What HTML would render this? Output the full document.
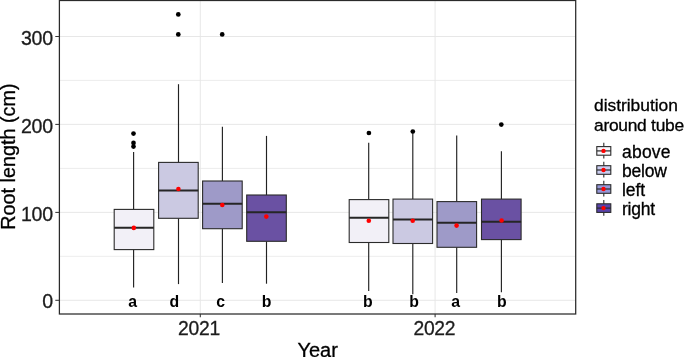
<!DOCTYPE html><html><head><meta charset="utf-8"><title>Root length boxplot</title>
<style>html,body{margin:0;padding:0;background:#fff}svg{display:block}text{font-family:"Liberation Sans",sans-serif}</style></head><body>
<svg width="685" height="357" viewBox="0 0 685 357">
<rect width="685" height="357" fill="#fff"/>
<line x1="59.4" x2="575.7" y1="256.3" y2="256.3" stroke="#e9e9e9" stroke-width="0.85"/>
<line x1="59.4" x2="575.7" y1="168.4" y2="168.4" stroke="#e9e9e9" stroke-width="0.85"/>
<line x1="59.4" x2="575.7" y1="80.4" y2="80.4" stroke="#e9e9e9" stroke-width="0.85"/>
<line x1="59.4" x2="575.7" y1="300.3" y2="300.3" stroke="#e6e6e6" stroke-width="0.95"/>
<line x1="59.4" x2="575.7" y1="212.4" y2="212.4" stroke="#e6e6e6" stroke-width="0.95"/>
<line x1="59.4" x2="575.7" y1="124.4" y2="124.4" stroke="#e6e6e6" stroke-width="0.95"/>
<line x1="59.4" x2="575.7" y1="36.5" y2="36.5" stroke="#e6e6e6" stroke-width="0.95"/>
<line x1="200.3" x2="200.3" y1="0.5" y2="314.0" stroke="#e6e6e6" stroke-width="0.95"/>
<line x1="435.1" x2="435.1" y1="0.5" y2="314.0" stroke="#e6e6e6" stroke-width="0.95"/>
<line x1="133.6" x2="133.6" y1="152.0" y2="209.4" stroke="#222" stroke-width="1.15"/>
<line x1="133.6" x2="133.6" y1="249.6" y2="287.5" stroke="#222" stroke-width="1.15"/>
<rect x="114.2" y="209.4" width="39.6" height="40.2" fill="#f2f0f7" stroke="#2b2b2b" stroke-width="1.1"/>
<line x1="114.2" x2="153.8" y1="227.8" y2="227.8" stroke="#262626" stroke-width="1.9"/>
<circle cx="133.8" cy="227.9" r="2.3" fill="#ff0000"/>
<line x1="178.5" x2="178.5" y1="84.2" y2="162.4" stroke="#222" stroke-width="1.15"/>
<line x1="178.5" x2="178.5" y1="218.3" y2="284.1" stroke="#222" stroke-width="1.15"/>
<rect x="158.6" y="162.4" width="39.6" height="55.9" fill="#cbc9e2" stroke="#2b2b2b" stroke-width="1.1"/>
<line x1="158.6" x2="198.2" y1="190.5" y2="190.5" stroke="#262626" stroke-width="1.9"/>
<circle cx="178.4" cy="189.0" r="2.3" fill="#ff0000"/>
<line x1="222.4" x2="222.4" y1="126.8" y2="181.0" stroke="#222" stroke-width="1.15"/>
<line x1="222.4" x2="222.4" y1="228.7" y2="283.1" stroke="#222" stroke-width="1.15"/>
<rect x="202.6" y="181.0" width="39.6" height="47.7" fill="#9e9ac8" stroke="#2b2b2b" stroke-width="1.1"/>
<line x1="202.6" x2="242.2" y1="203.8" y2="203.8" stroke="#262626" stroke-width="1.9"/>
<circle cx="222.3" cy="205.0" r="2.3" fill="#ff0000"/>
<line x1="266.5" x2="266.5" y1="135.9" y2="195.0" stroke="#222" stroke-width="1.15"/>
<line x1="266.5" x2="266.5" y1="241.3" y2="283.7" stroke="#222" stroke-width="1.15"/>
<rect x="246.7" y="195.0" width="39.6" height="46.3" fill="#6a51a3" stroke="#2b2b2b" stroke-width="1.1"/>
<line x1="246.7" x2="286.3" y1="212.25" y2="212.25" stroke="#262626" stroke-width="1.9"/>
<circle cx="266.3" cy="216.6" r="2.3" fill="#ff0000"/>
<line x1="368.7" x2="368.7" y1="142.8" y2="199.6" stroke="#222" stroke-width="1.15"/>
<line x1="368.7" x2="368.7" y1="242.5" y2="291.0" stroke="#222" stroke-width="1.15"/>
<rect x="349.2" y="199.6" width="39.6" height="42.9" fill="#f2f0f7" stroke="#2b2b2b" stroke-width="1.1"/>
<line x1="349.2" x2="388.8" y1="217.8" y2="217.8" stroke="#262626" stroke-width="1.9"/>
<circle cx="368.8" cy="220.8" r="2.3" fill="#ff0000"/>
<line x1="412.8" x2="412.8" y1="132.0" y2="199.1" stroke="#222" stroke-width="1.15"/>
<line x1="412.8" x2="412.8" y1="243.5" y2="294.2" stroke="#222" stroke-width="1.15"/>
<rect x="393.0" y="199.1" width="39.6" height="44.4" fill="#cbc9e2" stroke="#2b2b2b" stroke-width="1.1"/>
<line x1="393.0" x2="432.6" y1="219.5" y2="219.5" stroke="#262626" stroke-width="1.9"/>
<circle cx="412.7" cy="220.8" r="2.3" fill="#ff0000"/>
<line x1="456.7" x2="456.7" y1="135.5" y2="201.6" stroke="#222" stroke-width="1.15"/>
<line x1="456.7" x2="456.7" y1="247.3" y2="292.9" stroke="#222" stroke-width="1.15"/>
<rect x="437.0" y="201.6" width="39.6" height="45.7" fill="#9e9ac8" stroke="#2b2b2b" stroke-width="1.1"/>
<line x1="437.0" x2="476.6" y1="222.8" y2="222.8" stroke="#262626" stroke-width="1.9"/>
<circle cx="456.6" cy="225.6" r="2.3" fill="#ff0000"/>
<line x1="501.4" x2="501.4" y1="151.2" y2="199.1" stroke="#222" stroke-width="1.15"/>
<line x1="501.4" x2="501.4" y1="239.6" y2="292.3" stroke="#222" stroke-width="1.15"/>
<rect x="481.5" y="199.1" width="39.6" height="40.5" fill="#6a51a3" stroke="#2b2b2b" stroke-width="1.1"/>
<line x1="481.5" x2="521.1" y1="221.8" y2="221.8" stroke="#262626" stroke-width="1.9"/>
<circle cx="501.6" cy="220.5" r="2.3" fill="#ff0000"/>
<circle cx="133.5" cy="133.6" r="2.35" fill="#000"/>
<circle cx="133.5" cy="142.9" r="2.35" fill="#000"/>
<circle cx="133.5" cy="146.6" r="2.35" fill="#000"/>
<circle cx="178.3" cy="14.4" r="2.35" fill="#000"/>
<circle cx="178.3" cy="34.4" r="2.35" fill="#000"/>
<circle cx="222.2" cy="34.4" r="2.35" fill="#000"/>
<circle cx="368.9" cy="133.0" r="2.35" fill="#000"/>
<circle cx="412.8" cy="131.5" r="2.35" fill="#000"/>
<circle cx="501.3" cy="124.6" r="2.35" fill="#000"/>
<text x="132.6" y="306.6" font-size="15.8" font-weight="bold" text-anchor="middle" fill="#000">a</text>
<text x="174.4" y="306.6" font-size="15.8" font-weight="bold" text-anchor="middle" fill="#000">d</text>
<text x="220.6" y="306.6" font-size="15.8" font-weight="bold" text-anchor="middle" fill="#000">c</text>
<text x="266.6" y="306.6" font-size="15.8" font-weight="bold" text-anchor="middle" fill="#000">b</text>
<text x="367.8" y="306.6" font-size="15.8" font-weight="bold" text-anchor="middle" fill="#000">b</text>
<text x="414.0" y="306.6" font-size="15.8" font-weight="bold" text-anchor="middle" fill="#000">b</text>
<text x="455.6" y="306.6" font-size="15.8" font-weight="bold" text-anchor="middle" fill="#000">a</text>
<text x="501.8" y="306.6" font-size="15.8" font-weight="bold" text-anchor="middle" fill="#000">b</text>
<rect x="59.4" y="0.5" width="516.3" height="313.5" fill="none" stroke="#2a2a2a" stroke-width="1.25"/>
<line x1="55.3" x2="59.4" y1="300.3" y2="300.3" stroke="#333" stroke-width="1.05"/>
<text x="53.1" y="307.9" font-size="19.6" text-anchor="end" fill="#1c1c1c" stroke="#1c1c1c" stroke-width="0.3">0</text>
<line x1="55.3" x2="59.4" y1="212.4" y2="212.4" stroke="#333" stroke-width="1.05"/>
<text x="53.1" y="220.6" font-size="19.6" text-anchor="end" textLength="32.2" lengthAdjust="spacing" fill="#1c1c1c" stroke="#1c1c1c" stroke-width="0.3">100</text>
<line x1="55.3" x2="59.4" y1="124.4" y2="124.4" stroke="#333" stroke-width="1.05"/>
<text x="53.1" y="132.6" font-size="19.6" text-anchor="end" textLength="32.2" lengthAdjust="spacing" fill="#1c1c1c" stroke="#1c1c1c" stroke-width="0.3">200</text>
<line x1="55.3" x2="59.4" y1="36.5" y2="36.5" stroke="#333" stroke-width="1.05"/>
<text x="53.1" y="44.7" font-size="19.6" text-anchor="end" textLength="32.2" lengthAdjust="spacing" fill="#1c1c1c" stroke="#1c1c1c" stroke-width="0.3">300</text>
<line x1="200.3" x2="200.3" y1="314.0" y2="317.2" stroke="#333" stroke-width="1.05"/>
<text x="199.1" y="335.2" font-size="19.3" textLength="42.1" lengthAdjust="spacing" text-anchor="middle" fill="#1c1c1c" stroke="#1c1c1c" stroke-width="0.3">2021</text>
<line x1="435.1" x2="435.1" y1="314.0" y2="317.2" stroke="#333" stroke-width="1.05"/>
<text x="434.5" y="335.2" font-size="19.3" textLength="42.1" lengthAdjust="spacing" text-anchor="middle" fill="#1c1c1c" stroke="#1c1c1c" stroke-width="0.3">2022</text>
<text x="317.6" y="357.2" font-size="20" text-anchor="middle" fill="#000" stroke="#000" stroke-width="0.3">Year</text>
<text transform="translate(15.0,156.6) rotate(-90)" font-size="19.8" text-anchor="middle" fill="#000" stroke="#000" stroke-width="0.3">Root length (cm)</text>
<text x="594" y="111.4" font-size="17.4" textLength="83.9" lengthAdjust="spacing" fill="#000" stroke="#000" stroke-width="0.3">distribution</text>
<text x="594" y="131.2" font-size="17.4" textLength="90.1" lengthAdjust="spacing" fill="#000" stroke="#000" stroke-width="0.3">around tube</text>
<line x1="603.8" x2="603.8" y1="142.7" y2="158.5" stroke="#2b2b2b" stroke-width="1.1"/>
<rect x="596.8" y="146.6" width="14.0" height="8.6" fill="#f7f6fb" stroke="#2b2b2b" stroke-width="1.1"/>
<line x1="596.8" x2="610.8" y1="150.9" y2="150.9" stroke="#2b2b2b" stroke-width="1.2"/>
<circle cx="603.5" cy="150.9" r="2.2" fill="#ff0000"/>
<text x="622.0" y="157.7" font-size="17.5" textLength="48.5" lengthAdjust="spacing" fill="#000" stroke="#000" stroke-width="0.3">above</text>
<line x1="603.8" x2="603.8" y1="161.8" y2="177.6" stroke="#2b2b2b" stroke-width="1.1"/>
<rect x="596.8" y="165.7" width="14.0" height="8.6" fill="#cacdf0" stroke="#2b2b2b" stroke-width="1.1"/>
<line x1="596.8" x2="610.8" y1="170.0" y2="170.0" stroke="#2b2b2b" stroke-width="1.2"/>
<circle cx="603.5" cy="170.0" r="2.2" fill="#ff0000"/>
<text x="622.0" y="176.8" font-size="17.5" textLength="44.8" lengthAdjust="spacing" fill="#000" stroke="#000" stroke-width="0.3">below</text>
<line x1="603.8" x2="603.8" y1="180.8" y2="196.6" stroke="#2b2b2b" stroke-width="1.1"/>
<rect x="596.8" y="184.7" width="14.0" height="8.6" fill="#9698d8" stroke="#2b2b2b" stroke-width="1.1"/>
<line x1="596.8" x2="610.8" y1="189.0" y2="189.0" stroke="#2b2b2b" stroke-width="1.2"/>
<circle cx="603.5" cy="189.0" r="2.2" fill="#ff0000"/>
<text x="622.0" y="195.8" font-size="17.5" textLength="23.0" lengthAdjust="spacing" fill="#000" stroke="#000" stroke-width="0.3">left</text>
<line x1="603.8" x2="603.8" y1="199.9" y2="215.7" stroke="#2b2b2b" stroke-width="1.1"/>
<rect x="596.8" y="203.8" width="14.0" height="8.6" fill="#5843aa" stroke="#2b2b2b" stroke-width="1.1"/>
<line x1="596.8" x2="610.8" y1="208.1" y2="208.1" stroke="#2b2b2b" stroke-width="1.2"/>
<circle cx="603.5" cy="208.1" r="2.2" fill="#ff0000"/>
<text x="622.0" y="214.9" font-size="17.5" textLength="33.2" lengthAdjust="spacing" fill="#000" stroke="#000" stroke-width="0.3">right</text>
</svg></body></html>
